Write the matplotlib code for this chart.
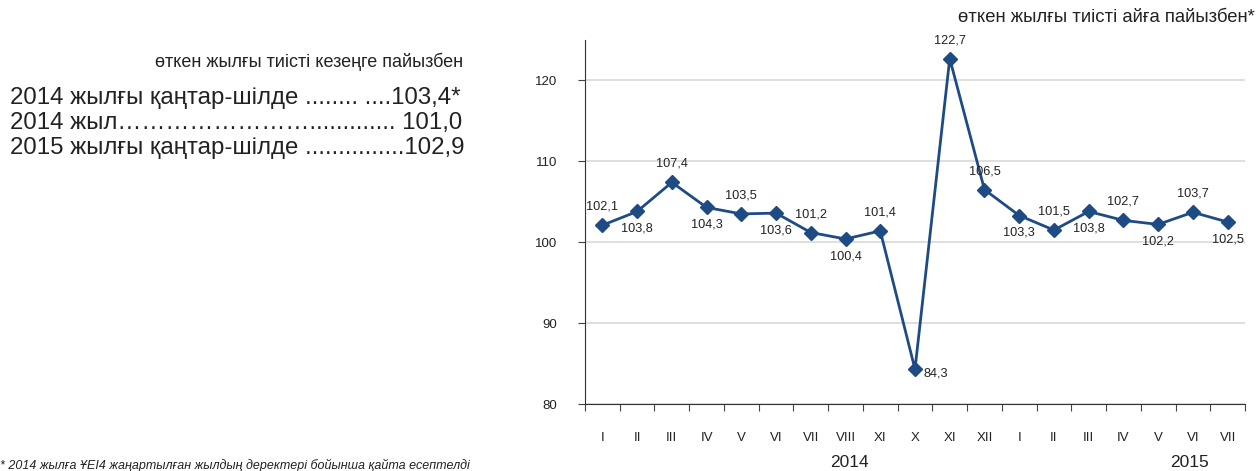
import matplotlib
matplotlib.use("Agg")
import matplotlib.pyplot as plt

plt.rcParams['font.family'] = ['Liberation Sans', 'DejaVu Sans']

months = ["I", "II", "III", "IV", "V", "VI", "VII", "VIII", "XI", "X", "XI", "XII",
          "I", "II", "III", "IV", "V", "VI", "VII"]
values = [102.1, 103.8, 107.4, 104.3, 103.5, 103.6, 101.2, 100.4, 101.4, 84.3, 122.7, 106.5,
          103.3, 101.5, 103.8, 102.7, 102.2, 103.7, 102.5]
labels = ["102,1", "103,8", "107,4", "104,3", "103,5", "103,6", "101,2", "100,4", "101,4", "84,3",
          "122,7", "106,5", "103,3", "101,5", "103,8", "102,7", "102,2", "103,7", "102,5"]
label_pos = ["a", "b", "a", "b", "a", "b", "a", "b", "a", "r", "a", "a",
             "b", "a", "b", "a", "b", "a", "b"]
years = ["2014", "2015"]
year_x = [7.1, 16.9]
yticks = [80, 90, 100, 110, 120]

summary_title = "өткен жылғы тиісті кезеңге пайызбен"
summary_lines = ["2014 жылғы қаңтар-шілде ........ ....103,4*",
                 "2014 жыл……………………............. 101,0",
                 "2015 жылғы қаңтар-шілде ...............102,9"]
chart_title = "өткен жылғы тиісті айға пайызбен*"
footnote = "* 2014 жылға ҰЕІ4 жаңартылған жылдың деректері бойынша қайта есептелді"

W, H = 1258, 471
fig = plt.figure(figsize=(W / 100, H / 100), dpi=100)
ax = fig.add_axes([585 / W, 1 - 404 / H, 660 / W, (404 - 40) / H])

color = "#1f4b85"
x = list(range(len(values)))
ax.plot(x, values, color=color, lw=2, marker="D", ms=7, mec=color, mfc=color, zorder=3)

for xi, v, lab, p in zip(x, values, labels, label_pos):
    if p == "a":
        ax.annotate(lab, (xi, v), xytext=(0, 9), textcoords="offset points",
                    ha="center", va="bottom", fontsize=9.2, color="#222222")
    elif p == "b":
        ax.annotate(lab, (xi, v), xytext=(0, -8), textcoords="offset points",
                    ha="center", va="top", fontsize=9.2, color="#222222")
    else:
        ax.annotate(lab, (xi, v), xytext=(6, -3), textcoords="offset points",
                    ha="left", va="center", fontsize=9.2, color="#222222")

ax.set_xlim(-0.5, len(values) - 0.5)
ax.set_ylim(80, 125)
ax.set_yticks(yticks)
ax.set_yticklabels([str(t) for t in yticks], fontsize=9.5, color="#222222")
ax.yaxis.grid(True, color="#d9d9d9", lw=1.2)
ax.set_axisbelow(True)
ax.set_xticks([i + 0.5 for i in range(-1, len(values))])
ax.set_xticklabels([])
ax.set_xticks(x, minor=True)
ax.set_xticklabels(months, minor=True, fontsize=9.5, color="#222222")
ax.tick_params(axis="x", which="minor", length=0, pad=20)
ax.tick_params(axis="x", which="major", length=5, direction="out", color="#444444")
ax.tick_params(axis="y", length=5, direction="out", color="#444444", pad=15)
ax.spines["top"].set_visible(False)
ax.spines["right"].set_visible(False)
ax.spines["left"].set_color("#333333")
ax.spines["bottom"].set_color("#333333")

for yx, yr in zip(year_x, years):
    ax.text(yx, -0.16, yr, transform=ax.get_xaxis_transform(), ha="center", va="center",
            fontsize=12.5, color="#222222")

fig.text(463 / W, 1 - 62 / H, summary_title, ha="right", va="center", fontsize=13, color="#222222")
for i, line in enumerate(summary_lines):
    fig.text(10 / W, 1 - (98 + 25 * i) / H, line, ha="left", va="center", fontsize=17.3, color="#222222")

fig.text(1255 / W, 1 - 18 / H, chart_title, ha="right", va="center", fontsize=13.3, color="#222222")
fig.text(0 / W, 1 - 465 / H, footnote, ha="left", va="center", fontsize=9, style="italic", color="#222222")

fig.savefig("out.png", dpi=100)
